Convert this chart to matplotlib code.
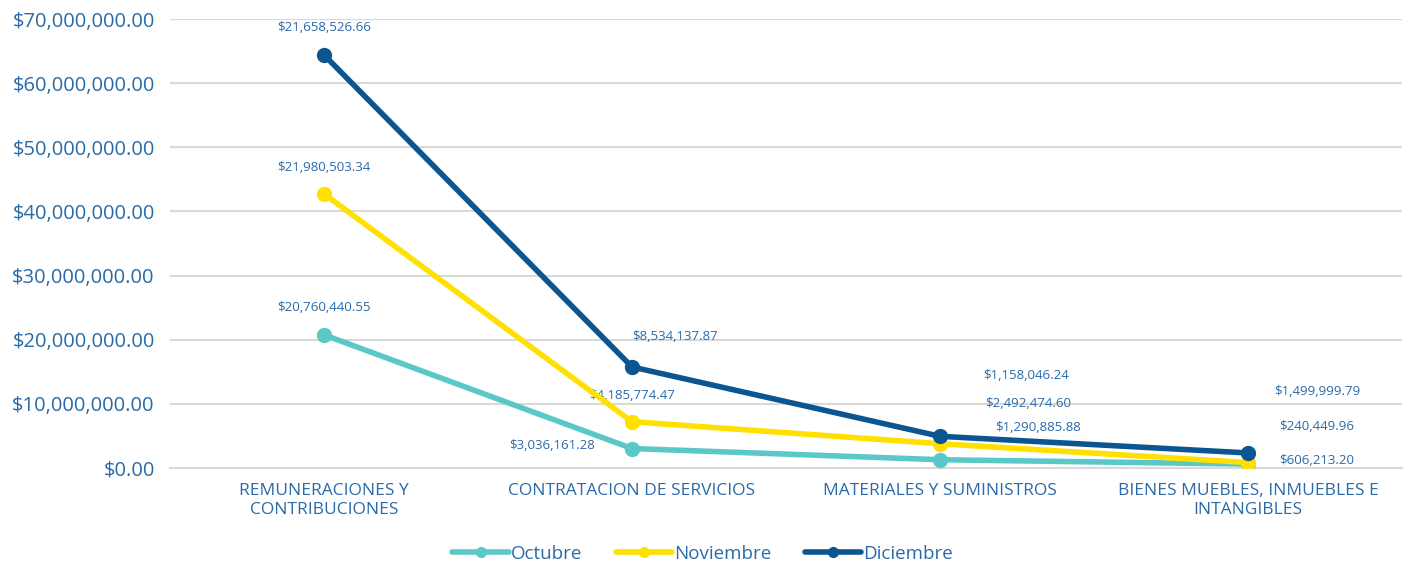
import numpy as np
import matplotlib.pyplot as plt
from matplotlib.ticker import FuncFormatter

categories = ["REMUNERACIONES Y\nCONTRIBUCIONES", "CONTRATACION DE SERVICIOS",
              "MATERIALES Y SUMINISTROS", "BIENES MUEBLES, INMUEBLES E\nINTANGIBLES"]
series_names = ["Octubre", "Noviembre", "Diciembre"]
octubre = [20760440.55, 3036161.28, 1290885.88, 606213.20]
noviembre = [21980503.34, 4185774.47, 2492474.60, 240449.96]
diciembre = [21658526.66, 8534137.87, 1158046.24, 1499999.79]

colors = ["#5BC8C8", "#FFE000", "#0B5591"]
text_color = "#2A6AA8"

# label offsets in pixels (dx, dy) per series per category
offsets = [
    [(0, 27), (-80, 3), (98, 32), (69, 4)],
    [(0, 26), (0, 26), (88, 40), (69, 36)],
    [(0, 27), (43, 30), (86, 61), (69, 61)],
]

plt.rcParams['font.family'] = ['Open Sans', 'DejaVu Sans']

fig = plt.figure(figsize=(14.05, 5.67), dpi=100)
ax = fig.add_axes([170 / 1405, 1 - 468 / 567, 1232 / 1405, 449 / 567])

x = np.arange(len(categories))
data = np.array([octubre, noviembre, diciembre])
stacked = np.cumsum(data, axis=0)

for i, name in enumerate(series_names):
    ax.plot(x, stacked[i], color=colors[i], lw=4, marker="o", ms=10,
            label=name, zorder=3 + i, solid_capstyle="round")
    for j in range(len(x)):
        dx, dy = offsets[i][j]
        ax.annotate("${:,.2f}".format(data[i][j]), (x[j], stacked[i][j]),
                    xytext=(dx, dy), textcoords="offset pixels",
                    ha="center", va="center", fontsize=9.5, color=text_color)

ax.set_xlim(-0.5, 3.5)
ax.set_ylim(0, 70000000)
ax.set_yticks(np.arange(0, 70000001, 10000000))
ax.yaxis.set_major_formatter(FuncFormatter(lambda v, p: "${:,.2f}".format(v)))
ax.set_xticks(x)
ax.set_xticklabels(categories, fontsize=12.5, color=text_color, linespacing=1.2)
ax.tick_params(axis="y", labelsize=14.5, labelcolor=text_color, length=0, pad=11)
ax.tick_params(axis="x", length=0, pad=11)
ax.grid(axis="y", color="#D9D9D9", lw=1.5)
ax.set_axisbelow(True)
for s in ["top", "right", "left"]:
    ax.spines[s].set_visible(False)
ax.spines["bottom"].set_color("#D9D9D9")
ax.spines["bottom"].set_linewidth(1.5)

leg = fig.legend(loc="center", bbox_to_anchor=(0.5, 1 - 554 / 567), ncol=3,
                 frameon=False, fontsize=13.5, handlelength=3.0, handletextpad=0.1,
                 columnspacing=1.8, markerscale=0.7)
for t in leg.get_texts():
    t.set_color(text_color)

fig.savefig("out.png", dpi=100)
